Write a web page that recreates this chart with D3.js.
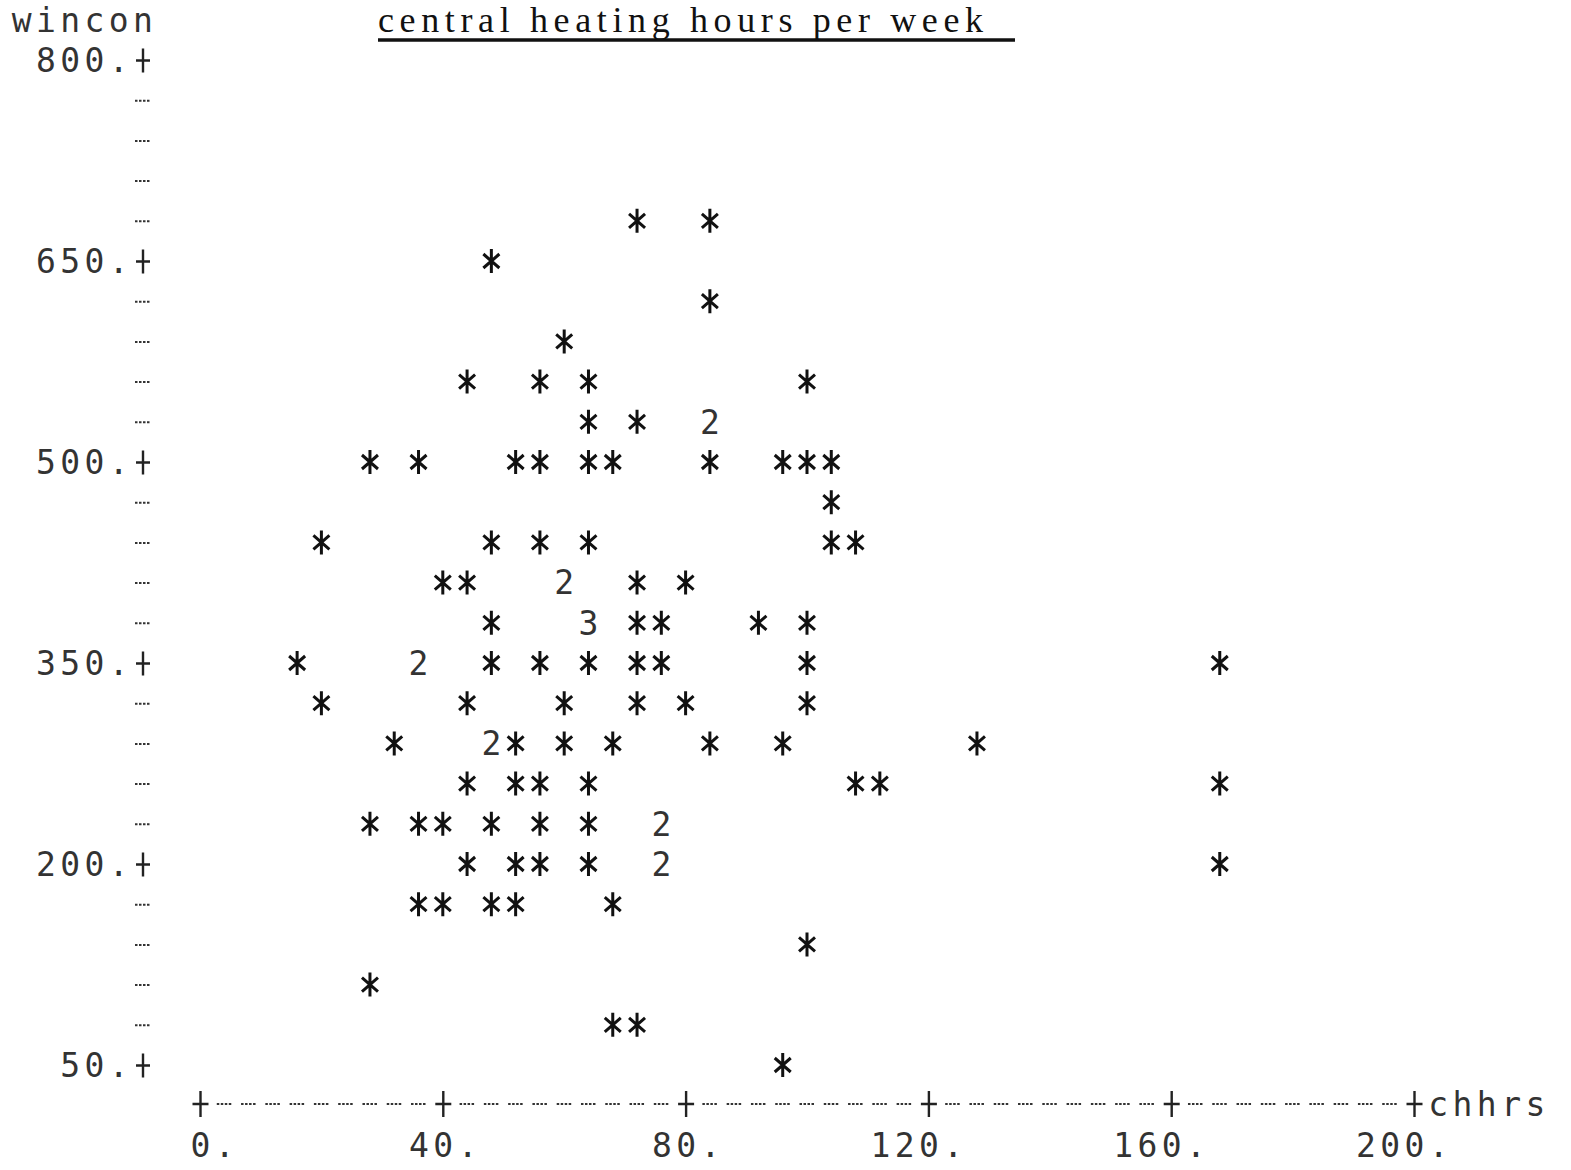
<!DOCTYPE html>
<html>
<head>
<meta charset="utf-8"/>
<title>central heating hours per week</title>
<style>
  body, html {margin:0;padding:0;background:#fff;overflow:hidden;}
  .pr {font-family:"DejaVu Sans Mono", monospace; font-size:33px; fill:#333;}
  .title {font-family:"Liberation Serif", serif; font-size:36px; fill:#111;}
</style>
<script src="https://cdn.jsdelivr.net/npm/d3@7/dist/d3.min.js"></script>
</head>
<body>
<div id="chart"></div>
<script>
// line printer scatter: wincon against chhrs, one character per cell
var chhrs  = [72,84, 48, 84, 60, 44,56,64,100, 64,72,84,
              28,36,52,56,64,68,84,96,100,104, 104,
              20,48,56,64,104,108, 40,44,60,72,80,
              48,64,72,76,92,100, 16,36,48,56,64,72,76,100,168,
              20,44,60,72,80,100, 32,48,52,60,68,84,96,128,
              44,52,56,64,108,112,168, 28,36,40,48,56,64,76,
              44,52,56,64,76,168, 36,40,48,52,68, 100, 28, 68,72, 96];
var wincon = [680,680, 650, 620, 590, 560,560,560,560, 530,530,530,
              500,500,500,500,500,500,500,500,500,500, 470,
              440,440,440,440,440,440, 410,410,410,410,410,
              380,380,380,380,380,380, 350,350,350,350,350,350,350,350,350,
              320,320,320,320,320,320, 290,290,290,290,290,290,290,290,
              260,260,260,260,260,260,260, 230,230,230,230,230,230,230,
              200,200,200,200,200,200, 170,170,170,170,170, 140, 110, 80,80, 50];
var count  = [1,1, 1, 1, 1, 1,1,1,1, 1,1,2,
              1,1,1,1,1,1,1,1,1,1, 1,
              1,1,1,1,1,1, 1,1,2,1,1,
              1,3,1,1,1,1, 1,2,1,1,1,1,1,1,1,
              1,1,1,1,1,1, 1,2,1,1,1,1,1,1,
              1,1,1,1,1,1,1, 1,1,1,1,1,1,2,
              1,1,1,1,2,1, 1,1,1,1,1, 1, 1, 1,1, 1];

var yRows   = d3.range(50, 801, 30);        // one printer line per 30 units
var yMajor  = [50, 200, 350, 500, 650, 800];
var xCols   = d3.range(0, 201, 4);          // one printer column per 4 units
var xMajor  = [0, 40, 80, 120, 160, 200];
var titleText = "central heating hours per week";
var yName = "wincon", xName = "chhrs";

var W = 1571, H = 1170;
var pitch = 24.27;       // character pitch
var axisX = 143;         // column of the y axis marks
var axisY = 1104;        // line of the x axis marks

var x = d3.scaleLinear().domain([0, 200]).range([200, 1414]);
var y = d3.scaleLinear().domain([50, 800]).range([1065, 60]);

var svg = d3.select("#chart").append("svg").attr("width", W).attr("height", H);

// write a string char by char, last char centred at xr
function putChars(g, str, xr, yy) {
  var n = str.length;
  str.split("").forEach(function (c, i) {
    g.append("text").attr("class", "pr")
      .attr("x", xr - (n - 1 - i) * pitch).attr("y", yy)
      .attr("dy", "0.36em").attr("text-anchor", "middle").text(c);
  });
}
function plusMark(g, h, w) {
  g.append("path").attr("d", "M0," + (-h) + "V" + h + "M" + (-w) + ",0H" + w)
    .attr("stroke", "#222").attr("stroke-width", 2.4).attr("fill", "none");
}
function dashMark(g) {
  g.append("path").attr("d", "M-8,0H8")
    .attr("stroke", "#333").attr("stroke-width", 2).attr("stroke-dasharray", "2.5 1.5");
}

// title
svg.append("text").attr("class", "title").attr("x", 378).attr("y", 32)
  .attr("textLength", 605).attr("lengthAdjust", "spacing").text(titleText);
svg.append("path").attr("d", "M378,40H1015").attr("stroke", "#111").attr("stroke-width", 3.5);

// y axis
var gy = svg.append("g").attr("transform", "translate(" + axisX + ",0)")
  .call(d3.axisLeft(y).tickValues(yRows).tickSize(0).tickFormat(function () { return ""; }));
gy.select(".domain").remove();
gy.selectAll(".tick").each(function (d) {
  var t = d3.select(this);
  if (yMajor.indexOf(d) >= 0) {
    plusMark(t, 12, 7);
    putChars(t, d + ".", -pitch, 0);
  } else {
    dashMark(t);
  }
});
putChars(svg.append("g"), yName, axisX, 20);

// x axis
var gx = svg.append("g").attr("transform", "translate(0," + axisY + ")")
  .call(d3.axisBottom(x).tickValues(xCols).tickSize(0).tickFormat(function () { return ""; }));
gx.select(".domain").remove();
gx.selectAll(".tick").each(function (d) {
  var t = d3.select(this);
  if (xMajor.indexOf(d) >= 0) {
    plusMark(t, 13, 8);
    putChars(t, d + ".", pitch, 41);
  } else {
    dashMark(t);
  }
});
var nameG = svg.append("g");
putChars(nameG, xName, x(200) + xName.length * pitch, axisY);

// points
var pts = chhrs.map(function (v, i) { return {x: v, y: wincon[i], n: count[i]}; });
var star = "M0,-12V12M-8,-7L8,7M-8,7L8,-7";
var gp = svg.append("g").selectAll("g").data(pts).enter().append("g")
  .attr("transform", function (d) { return "translate(" + x(d.x) + "," + y(d.y) + ")"; });
gp.filter(function (d) { return d.n === 1; }).append("path")
  .attr("d", star).attr("stroke", "#111").attr("stroke-width", 3).attr("fill", "none");
gp.filter(function (d) { return d.n > 1; }).append("text").attr("class", "pr")
  .attr("text-anchor", "middle").attr("dy", "0.36em").text(function (d) { return d.n; });
</script>
</body>
</html>
